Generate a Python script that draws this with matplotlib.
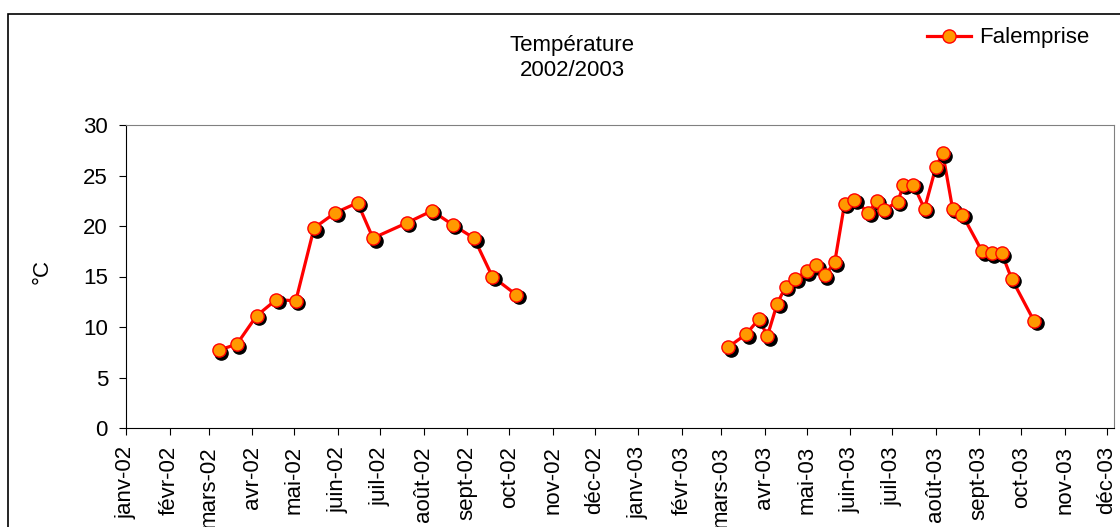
import matplotlib
matplotlib.use("Agg")
import matplotlib.pyplot as plt
from matplotlib.lines import Line2D
from matplotlib.patches import Rectangle
from matplotlib import transforms
import numpy as np

plt.rcParams['font.family'] = ['Liberation Sans', 'DejaVu Sans']

# data
dates_2002 = ['2002-03-08', '2002-03-21', '2002-04-04', '2002-04-18', '2002-05-02',
              '2002-05-15', '2002-05-30', '2002-06-15', '2002-06-26', '2002-07-20',
              '2002-08-07', '2002-08-22', '2002-09-06', '2002-09-19', '2002-10-06']
temp_2002 = [7.7, 8.3, 11.1, 12.7, 12.6, 19.8, 21.3, 22.3, 18.8, 20.3,
             21.5, 20.1, 18.8, 15.0, 13.2]

dates_2003 = ['2003-03-06', '2003-03-19', '2003-03-28', '2003-04-03', '2003-04-10',
              '2003-04-16', '2003-04-23', '2003-05-01', '2003-05-08', '2003-05-14',
              '2003-05-21', '2003-05-28', '2003-06-04', '2003-06-14', '2003-06-20',
              '2003-06-25', '2003-07-05', '2003-07-09', '2003-07-16', '2003-07-24',
              '2003-08-01', '2003-08-06', '2003-08-13', '2003-08-20', '2003-09-03',
              '2003-09-10', '2003-09-17', '2003-09-24', '2003-10-10']
temp_2003 = [8.0, 9.3, 10.8, 9.1, 12.3, 14.0, 14.8, 15.5, 16.1, 15.1,
             16.4, 22.2, 22.6, 21.3, 22.5, 21.6, 22.4, 24.1, 24.1, 21.7,
             25.8, 27.2, 21.7, 21.1, 17.5, 17.3, 17.3, 14.8, 10.6]

month_labels = ['janv-02', 'févr-02', 'mars-02', 'avr-02', 'mai-02', 'juin-02',
                'juil-02', 'août-02', 'sept-02', 'oct-02', 'nov-02', 'déc-02',
                'janv-03', 'févr-03', 'mars-03', 'avr-03', 'mai-03', 'juin-03',
                'juil-03', 'août-03', 'sept-03', 'oct-03', 'nov-03', 'déc-03']
month_ticks = np.arange('2002-01', '2004-01', dtype='datetime64[M]').astype('datetime64[D]')

series_name = 'Falemprise'
fs = 16
orange = '#FF9900'
red = '#FF0000'

fig = plt.figure(figsize=(11.2, 5.27), dpi=100)
ax = fig.add_axes([126 / 1120, 1 - 428 / 527, (1114 - 126) / 1120, (428 - 125) / 527])

shadow = transforms.offset_copy(ax.transData, fig=fig, x=2.5, y=-2.5, units='dots')
for d, t in [(dates_2002, temp_2002), (dates_2003, temp_2003)]:
    x = np.array(d, dtype='datetime64[D]')
    ax.plot(x, t, color=red, lw=2.3, zorder=2)
    ax.plot(x, t, ls='none', marker='o', ms=9.5, mfc='black', mec='black',
            transform=shadow, zorder=3)
    ax.plot(x, t, ls='none', marker='o', ms=9.5, mfc=orange, mec=red, mew=1.0, zorder=4)

ax.set_ylim(0, 30)
ax.set_yticks(range(0, 31, 5))
ax.set_xlim(np.datetime64('2002-01-01'), np.datetime64('2003-12-06'))
ax.set_xticks(month_ticks)
ax.set_xticklabels(month_labels, rotation=90, va='top', ha='center')

ax.tick_params(axis='both', labelsize=fs, length=5, width=0.8, pad=8, direction='out')
for s in ['top', 'right']:
    ax.spines[s].set_color('#808080')
for s in ['left', 'bottom']:
    ax.spines[s].set_color('black')

fig.text(42 / 1120, 1 - 272 / 527, '°C', rotation=90, fontsize=fs, ha='center', va='center')
fig.text(572 / 1120, 1 - 58 / 527, 'Température\n2002/2003', fontsize=fs,
         ha='center', va='center', linespacing=1.3)

handle = Line2D([], [], color=red, lw=2.3, marker='o', ms=9.5, mfc=orange, mec=red, mew=1.0)
fig.legend([handle], [series_name], loc='center left', bbox_to_anchor=(927 / 1120, 1 - 38 / 527),
           frameon=False, fontsize=fs, handlelength=2.0, handletextpad=0.35,
           borderpad=0, borderaxespad=0)

fig.add_artist(Rectangle((8 / 1120, -0.1), 2, 1 - 14 / 527 + 0.1, transform=fig.transFigure,
                         fill=False, ec='black', lw=1.2))

fig.savefig('out.png', dpi=100)
